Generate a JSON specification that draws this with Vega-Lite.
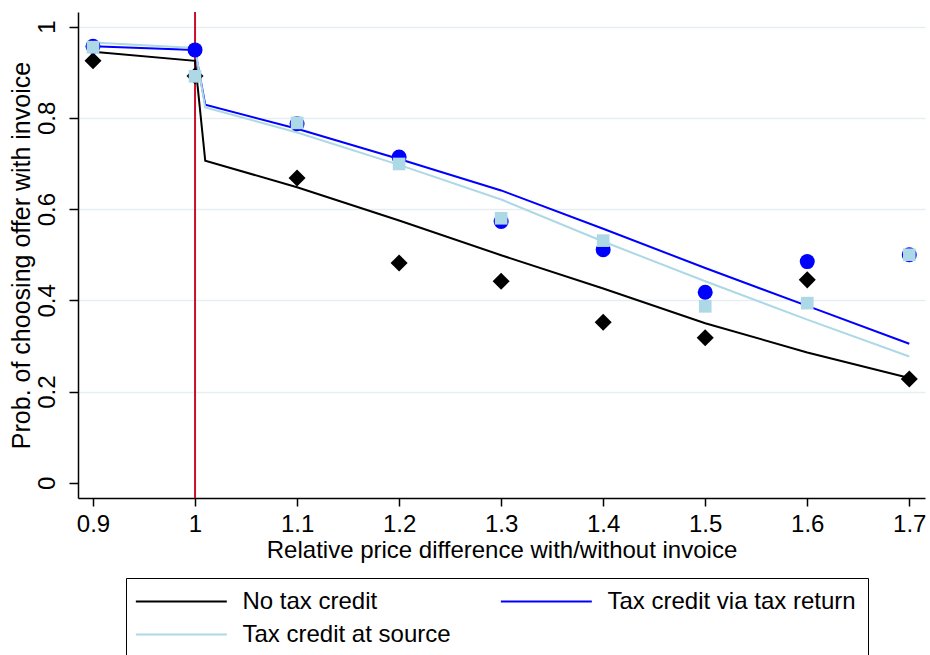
{
  "$schema": "https://vega.github.io/schema/vega-lite/v6.json",
  "autosize": {"type": "none"},
  "width": 847,
  "height": 486,
  "padding": {"left": 78, "top": 12, "right": 5, "bottom": 157},
  "background": "white",
  "config": {
    "view": {"stroke": null},
    "font": "Liberation Sans",
    "axis": {
      "labelFont": "Liberation Sans",
      "titleFont": "Liberation Sans",
      "labelFontSize": 24,
      "titleFontSize": 24,
      "titleFontWeight": "normal",
      "labelColor": "black",
      "titleColor": "black",
      "domainColor": "black",
      "domainWidth": 1.5,
      "tickColor": "black",
      "tickWidth": 1.5
    }
  },
  "datasets": {
    "lines": [
      {"series": "No tax credit", "x": 0.9, "y": 0.945},
      {"series": "No tax credit", "x": 1.0, "y": 0.925},
      {"series": "No tax credit", "x": 1.01, "y": 0.706},
      {"series": "No tax credit", "x": 1.1, "y": 0.648},
      {"series": "No tax credit", "x": 1.2, "y": 0.575},
      {"series": "No tax credit", "x": 1.3, "y": 0.499},
      {"series": "No tax credit", "x": 1.4, "y": 0.426},
      {"series": "No tax credit", "x": 1.5, "y": 0.350},
      {"series": "No tax credit", "x": 1.6, "y": 0.286},
      {"series": "No tax credit", "x": 1.7, "y": 0.230},
      {"series": "Tax credit via tax return", "x": 0.9, "y": 0.957},
      {"series": "Tax credit via tax return", "x": 1.0, "y": 0.949},
      {"series": "Tax credit via tax return", "x": 1.01, "y": 0.829},
      {"series": "Tax credit via tax return", "x": 1.1, "y": 0.776},
      {"series": "Tax credit via tax return", "x": 1.2, "y": 0.710},
      {"series": "Tax credit via tax return", "x": 1.3, "y": 0.641},
      {"series": "Tax credit via tax return", "x": 1.4, "y": 0.557},
      {"series": "Tax credit via tax return", "x": 1.5, "y": 0.471},
      {"series": "Tax credit via tax return", "x": 1.6, "y": 0.388},
      {"series": "Tax credit via tax return", "x": 1.7, "y": 0.305},
      {"series": "Tax credit at source", "x": 0.9, "y": 0.965},
      {"series": "Tax credit at source", "x": 1.0, "y": 0.953},
      {"series": "Tax credit at source", "x": 1.01, "y": 0.823},
      {"series": "Tax credit at source", "x": 1.1, "y": 0.768},
      {"series": "Tax credit at source", "x": 1.2, "y": 0.697},
      {"series": "Tax credit at source", "x": 1.3, "y": 0.621},
      {"series": "Tax credit at source", "x": 1.4, "y": 0.529},
      {"series": "Tax credit at source", "x": 1.5, "y": 0.442},
      {"series": "Tax credit at source", "x": 1.6, "y": 0.358},
      {"series": "Tax credit at source", "x": 1.7, "y": 0.277}
    ],
    "points": [
      {"series": "No tax credit", "x": 0.9, "y": 0.925},
      {"series": "No tax credit", "x": 1.0, "y": 0.892},
      {"series": "No tax credit", "x": 1.1, "y": 0.668},
      {"series": "No tax credit", "x": 1.2, "y": 0.482},
      {"series": "No tax credit", "x": 1.3, "y": 0.442},
      {"series": "No tax credit", "x": 1.4, "y": 0.352},
      {"series": "No tax credit", "x": 1.5, "y": 0.318},
      {"series": "No tax credit", "x": 1.6, "y": 0.445},
      {"series": "No tax credit", "x": 1.7, "y": 0.228},
      {"series": "Tax credit via tax return", "x": 0.9, "y": 0.957},
      {"series": "Tax credit via tax return", "x": 1.0, "y": 0.949},
      {"series": "Tax credit via tax return", "x": 1.1, "y": 0.787},
      {"series": "Tax credit via tax return", "x": 1.2, "y": 0.714},
      {"series": "Tax credit via tax return", "x": 1.3, "y": 0.573},
      {"series": "Tax credit via tax return", "x": 1.4, "y": 0.511},
      {"series": "Tax credit via tax return", "x": 1.5, "y": 0.418},
      {"series": "Tax credit via tax return", "x": 1.6, "y": 0.485},
      {"series": "Tax credit via tax return", "x": 1.7, "y": 0.500},
      {"series": "Tax credit at source", "x": 0.9, "y": 0.955},
      {"series": "Tax credit at source", "x": 1.0, "y": 0.891},
      {"series": "Tax credit at source", "x": 1.1, "y": 0.789},
      {"series": "Tax credit at source", "x": 1.2, "y": 0.699},
      {"series": "Tax credit at source", "x": 1.3, "y": 0.580},
      {"series": "Tax credit at source", "x": 1.4, "y": 0.531},
      {"series": "Tax credit at source", "x": 1.5, "y": 0.387},
      {"series": "Tax credit at source", "x": 1.6, "y": 0.394},
      {"series": "Tax credit at source", "x": 1.7, "y": 0.500}
    ]
  },
  "resolve": {"scale": {"color": "independent", "shape": "independent", "size": "independent"}, "legend": {"color": "independent"}},
  "encoding": {
    "x": {
      "field": "x", "type": "quantitative",
      "scale": {"domain": [0.8853, 1.7154], "nice": false, "zero": false},
      "axis": {
        "title": "Relative price difference with/without invoice",
        "values": [0.9, 1.0, 1.1, 1.2, 1.3, 1.4, 1.5, 1.6, 1.7],
        "format": "~g",
        "grid": false,
        "tickSize": 8,
        "labelPadding": 6,
        "titlePadding": 2
      }
    },
    "y": {
      "field": "y", "type": "quantitative",
      "scale": {"domain": [-0.033, 1.032], "nice": false, "zero": false},
      "axis": {
        "title": "Prob. of choosing offer with invoice",
        "titleFontSize": 25,
        "values": [0, 0.2, 0.4, 0.6, 0.8, 1.0],
        "format": "~g",
        "grid": true,
        "gridColor": {"condition": {"test": "datum.value === 0", "value": "transparent"}, "value": "#e6eef1"},
        "gridWidth": 1.5,
        "tickSize": 9,
        "labelAngle": -90,
        "labelAlign": "center",
        "labelBaseline": "alphabetic",
        "labelPadding": 15,
        "titlePadding": 1
      }
    }
  },
  "layer": [
    {
      "data": {"values": [{"x": 1.0}]},
      "mark": {"type": "rule", "color": "#c8102e", "strokeWidth": 2},
      "encoding": {"x": {"field": "x", "type": "quantitative"}, "y": null}
    },
    {
      "data": {"name": "lines"},
      "mark": {"type": "line", "strokeWidth": 2},
      "encoding": {
        "color": {
          "field": "series", "type": "nominal",
          "sort": null,
          "scale": {
            "domain": ["No tax credit", "Tax credit via tax return", "Tax credit at source"],
            "range": ["#000000", "#0000ff", "#add8e6"]
          },
          "legend": {
            "title": null,
            "orient": "none",
            "legendX": 48,
            "legendY": 566,
            "direction": "horizontal",
            "columns": 2,
            "symbolType": "M-1.5,0H8.5",
            "symbolSize": 331,
            "symbolStrokeWidth": 2,
            "symbolFillColor": "transparent",
            "labelFontSize": 24,
            "labelFont": "Liberation Sans",
            "labelColor": "black",
            "labelOffset": 81,
            "labelLimit": 400,
            "strokeColor": "black",
            "padding": 11.5,
            "columnPadding": 45,
            "rowPadding": 9
          }
        }
      }
    },
    {
      "data": {"name": "points"},
      "mark": {"type": "point", "filled": true, "opacity": 1},
      "encoding": {
        "color": {
          "field": "series", "type": "nominal",
          "scale": {
            "domain": ["No tax credit", "Tax credit via tax return", "Tax credit at source"],
            "range": ["#000000", "#0000ff", "#add8e6"]
          },
          "legend": null
        },
        "shape": {
          "field": "series", "type": "nominal",
          "scale": {
            "domain": ["No tax credit", "Tax credit via tax return", "Tax credit at source"],
            "range": ["diamond", "circle", "square"]
          },
          "legend": null
        },
        "size": {
          "field": "series", "type": "nominal",
          "scale": {
            "domain": ["No tax credit", "Tax credit via tax return", "Tax credit at source"],
            "range": [290, 160, 130]
          },
          "legend": null
        }
      }
    }
  ]
}
